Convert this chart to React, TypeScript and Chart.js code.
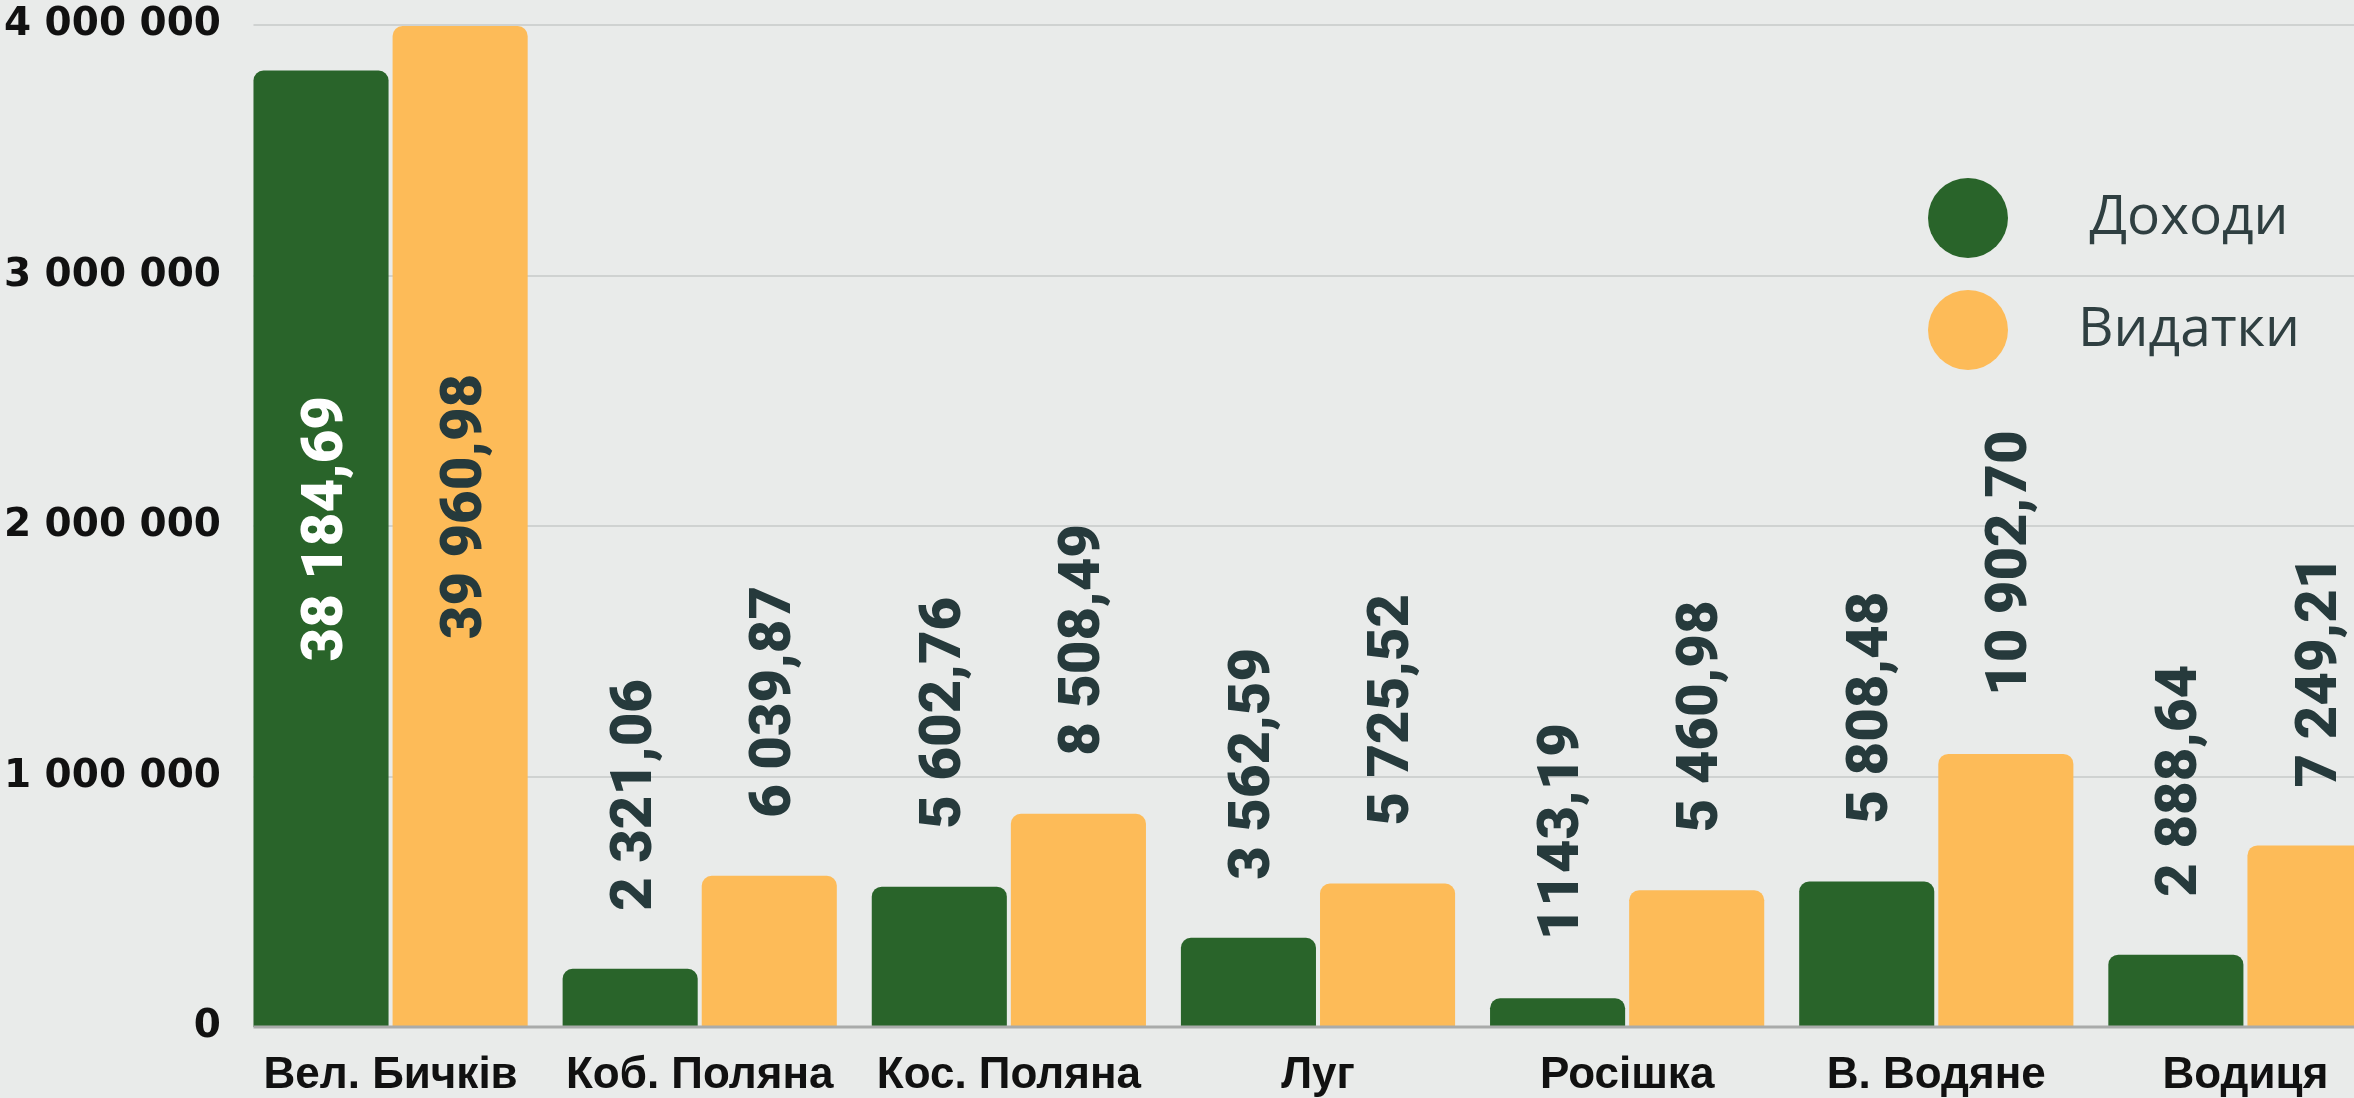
import React, { useEffect, useRef } from "react";
import { Chart, registerables } from "chart.js";

Chart.register(...registerables);

// ---- data ----
const categories = ["Вел. Бичків", "Коб. Поляна", "Кос. Поляна", "Луг", "Росішка", "В. Водяне", "Водиця"];
const seriesNames = ["Доходи", "Видатки"];
const incomeValues = [3818469, 232106, 560276, 356259, 114319, 580848, 288864];
const expenseValues = [3996098, 603987, 850849, 572552, 546098, 1090270, 724921];
const incomeLabels = ["38 184,69", "2 321,06", "5 602,76", "3 562,59", "1143,19", "5 808,48", "2 888,64"];
const expenseLabels = ["39 960,98", "6 039,87", "8 508,49", "5 725,52", "5 460,98", "10 902,70", "7 249,21"];
const yMin = 0;
const yMax = 4000000;
const yStep = 1000000;

// ---- styles ----
const BG = "#e9ebea";
const GREEN = "#29642a";
const YELLOW = "#fdbb58";
const DARK = "#263a3c";
const GRID = "#cfd2d1";
const ZERO = "#a9abaa";
const CANVAS_W = 2410;
const CANVAS_H = 1098;

const fmtTick = (v: number) => String(v).replace(/\B(?=(\d{3})+(?!\d))/g, " ");

const decorPlugin = {
  id: "decor",
  beforeDatasetsDraw(chart: any) {
    const { ctx, chartArea, scales } = chart;
    const y = scales.y;
    const first: any = chart.getDatasetMeta(0).data[0];
    const left = first.x - first.width / 2;
    ctx.save();
    ctx.strokeStyle = GRID;
    ctx.lineWidth = 2;
    y.ticks.forEach((t: any) => {
      if (t.value === 0) return;
      const py = Math.round(y.getPixelForValue(t.value));
      ctx.beginPath();
      ctx.moveTo(left, py);
      ctx.lineTo(chartArea.right + 50, py);
      ctx.stroke();
    });
    ctx.restore();
  },
  afterDatasetsDraw(chart: any) {
    const { ctx, chartArea, scales } = chart;
    const y = scales.y;
    const first: any = chart.getDatasetMeta(0).data[0];
    const left = first.x - first.width / 2;
    // zero line
    ctx.save();
    ctx.strokeStyle = ZERO;
    ctx.lineWidth = 3;
    const zy = Math.round(y.getPixelForValue(0));
    ctx.beginPath();
    ctx.moveTo(left, zy);
    ctx.lineTo(chartArea.right + 50, zy);
    ctx.stroke();
    ctx.restore();

    // value labels
    const labelSets = [incomeLabels, expenseLabels];
    const fontSize = 58;
    ctx.save();
    ctx.font = `900 ${fontSize}px Roboto, 'DejaVu Sans', sans-serif`;
    ctx.textBaseline = "alphabetic";
    chart.data.datasets.forEach((ds: any, di: number) => {
      const meta = chart.getDatasetMeta(di);
      meta.data.forEach((el: any, i: number) => {
        const text = labelSets[di][i];
        const w = ctx.measureText(text).width;
        const gap = 58;
        let startY = el.y - gap; // bottom of rotated text
        let color = DARK;
        if (startY - w < chartArea.top) {
          const mid = (el.y + el.base) / 2 - 20;
          startY = mid + w / 2;
          color = di === 0 ? "#ffffff" : DARK;
        }
        ctx.save();
        ctx.translate(el.x, startY);
        ctx.rotate(-Math.PI / 2);
        ctx.fillStyle = color;
        ctx.textAlign = "left";
        ctx.fillText(text, 0, (fontSize * 0.71) / 2);
        ctx.restore();
      });
    });
    ctx.restore();

    // legend
    ctx.save();
    const legendY = [218, 330];
    chart.data.datasets.forEach((ds: any, di: number) => {
      ctx.beginPath();
      ctx.fillStyle = ds.backgroundColor;
      ctx.arc(1968, legendY[di], 40, 0, Math.PI * 2);
      ctx.fill();
      ctx.fillStyle = "#2f3f41";
      ctx.font = "55px 'Open Sans', 'DejaVu Sans', sans-serif";
      ctx.textAlign = "center";
      ctx.textBaseline = "middle";
      ctx.fillText(ds.label, 2189, legendY[di]);
    });
    ctx.restore();
  },
};

export default function App() {
  const ref = useRef<HTMLCanvasElement | null>(null);

  useEffect(() => {
    if (!ref.current) return;
    const chart = new Chart(ref.current, {
      type: "bar",
      data: {
        labels: categories,
        datasets: [
          {
            label: seriesNames[0],
            data: incomeValues,
            backgroundColor: GREEN,
            borderRadius: 10,
            borderSkipped: "start",
            barPercentage: 0.971,
            categoryPercentage: 0.9,
          },
          {
            label: seriesNames[1],
            data: expenseValues,
            backgroundColor: YELLOW,
            borderRadius: 10,
            borderSkipped: "start",
            barPercentage: 0.971,
            categoryPercentage: 0.9,
          },
        ],
      },
      options: {
        responsive: false,
        maintainAspectRatio: false,
        animation: false,
        devicePixelRatio: 1,
        layout: { padding: { top: 25, left: 0, right: 10, bottom: 0 } },
        plugins: {
          legend: { display: false },
          tooltip: { enabled: false },
        },
        scales: {
          x: {
            offset: true,
            grid: { display: false, drawTicks: false },
            border: { display: false },
            ticks: {
              color: "#111111",
              padding: 22,
              maxRotation: 0,
              autoSkip: false,
              font: { family: "'Liberation Sans', Arial, sans-serif", size: 44, weight: "bold" },
            },
            afterFit: (s: any) => {
              s.height = 71;
              s.paddingLeft = 0;
              s.paddingRight = 0;
            },
          },
          y: {
            min: yMin,
            max: yMax,
            grid: { display: false, drawTicks: false },
            border: { display: false },
            ticks: {
              stepSize: yStep,
              color: "#111111",
              padding: 15,
              font: { family: "'DejaVu Sans', sans-serif", size: 39, weight: "bold" },
              callback: (v: any) => fmtTick(Number(v)),
            },
            afterFit: (s: any) => {
              s.width = 236;
              s.paddingTop = 0;
              s.paddingBottom = 0;
            },
          },
        },
      },
      plugins: [decorPlugin],
    });
    return () => chart.destroy();
  }, []);

  return (
    <div
      style={{
        position: "fixed",
        left: 0,
        top: 0,
        width: "100vw",
        height: "100vh",
        overflow: "hidden",
        background: BG,
      }}
    >
      <canvas
        ref={ref}
        width={CANVAS_W}
        height={CANVAS_H}
        style={{ display: "block", width: CANVAS_W + "px", height: CANVAS_H + "px" }}
      />
    </div>
  );
}
